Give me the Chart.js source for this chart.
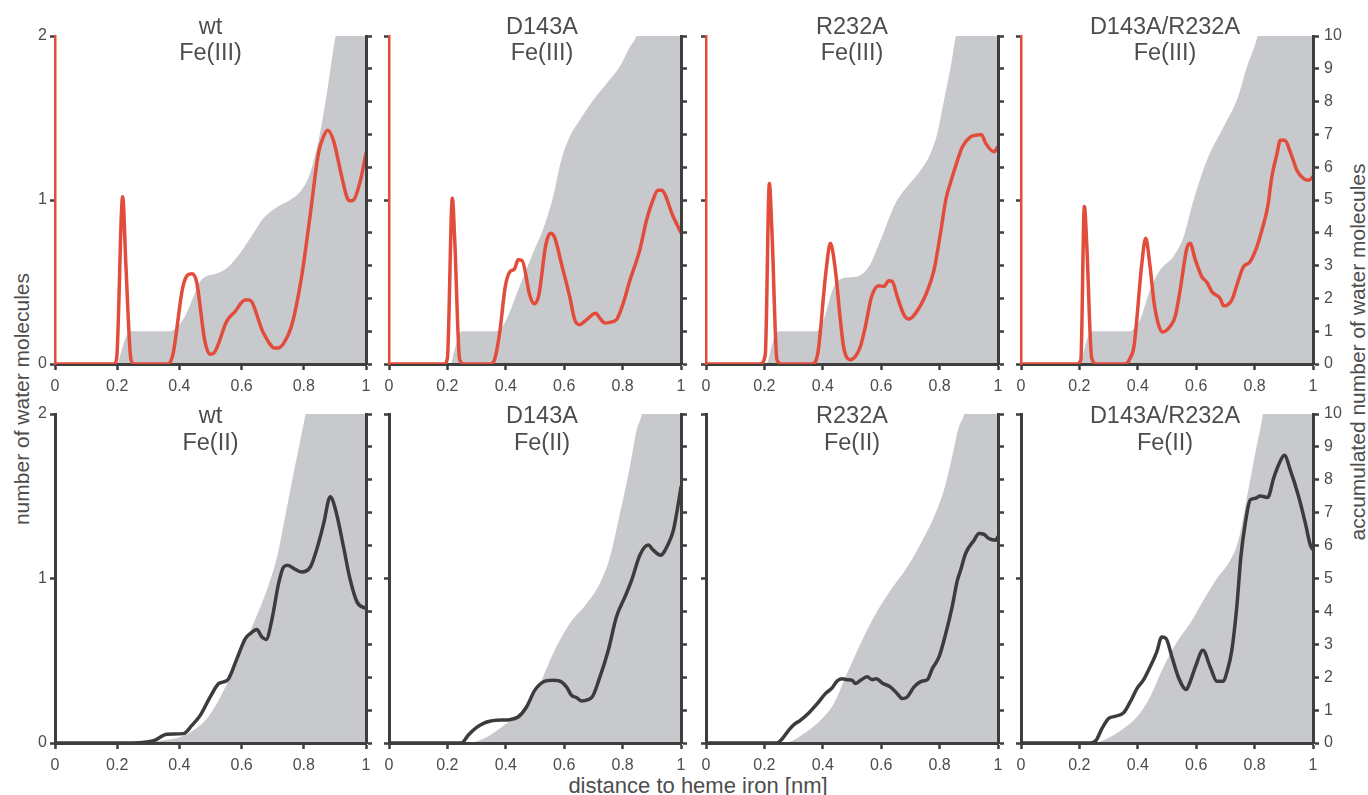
<!DOCTYPE html>
<html>
<head>
<meta charset="utf-8">
<script src="https://cdn.jsdelivr.net/npm/chart.js@4.4.1/dist/chart.umd.min.js"></script>
<style>
html,body{margin:0;padding:0;background:#fff;}
#wrap{position:relative;width:1368px;height:795px;overflow:hidden;font-family:"Liberation Sans",Arial,sans-serif;color:#4d4d4d;}
#wrap canvas{position:absolute;}
.ttl{position:absolute;white-space:nowrap;line-height:24px;transform-origin:50% 50%;}
</style>
</head>
<body>
<div id="wrap">
  <div class="ttl" id="ytl" style="font-size:21px;left:22px;top:399px;transform:translate(-50%,-50%) rotate(-90deg);">number of water molecules</div>
  <div class="ttl" id="y2tl" style="font-size:21px;left:1358px;top:352px;transform:translate(-50%,-50%) rotate(-90deg);">accumulated number of water molecules</div>
  <div class="ttl" id="xtl" style="font-size:22px;left:698px;top:786px;transform:translate(-50%,-50%);">distance to heme iron [nm]</div>
</div>
<script>
// ---------------- DATA ----------------
const xTickLabels = ['0', '0.2', '0.4', '0.6', '0.8', '1'];
const panelNames = ['wt', 'D143A', 'R232A', 'D143A/R232A'];
const stateNames = ['Fe(III)', 'Fe(II)'];

// [distance nm, number of water molecules]
const wtFe3Line = [[0,0],[0.19,0],[0.198,0.03],[0.2176,1.02],[0.228,0.6],[0.244,0.03],[0.255,0],[0.364,0],[0.38,0.067],[0.41,0.46],[0.427,0.543],[0.44,0.55],[0.455,0.503],[0.482,0.138],[0.498,0.06],[0.51,0.065],[0.552,0.26],[0.579,0.32],[0.611,0.39],[0.625,0.39],[0.67,0.19],[0.707,0.097],[0.718,0.097],[0.75,0.178],[0.766,0.27],[0.793,0.533],[0.82,0.90],[0.847,1.284],[0.863,1.385],[0.877,1.426],[0.895,1.365],[0.922,1.142],[0.938,1.02],[0.948,0.995],[0.96,1.0],[0.981,1.111],[1.0,1.284]];
const d143aFe3Line = [[0,0],[0.19,0],[0.2,0.037],[0.217,1.01],[0.225,0.76],[0.242,0.026],[0.259,0],[0.345,0],[0.362,0.03],[0.379,0.19],[0.398,0.47],[0.413,0.56],[0.43,0.58],[0.442,0.635],[0.456,0.63],[0.482,0.42],[0.497,0.367],[0.513,0.42],[0.537,0.726],[0.553,0.797],[0.567,0.773],[0.59,0.615],[0.619,0.41],[0.636,0.27],[0.653,0.24],[0.67,0.26],[0.708,0.31],[0.722,0.28],[0.739,0.25],[0.756,0.254],[0.779,0.27],[0.802,0.37],[0.825,0.51],[0.859,0.696],[0.882,0.878],[0.904,1.0],[0.921,1.06],[0.933,1.06],[0.973,0.9],[1.0,0.8]];
const r232aFe3Line = [[0,0],[0.186,0],[0.203,0.057],[0.217,1.10],[0.226,0.8],[0.243,0.026],[0.26,0],[0.363,0],[0.383,0.067],[0.41,0.55],[0.426,0.736],[0.443,0.574],[0.46,0.27],[0.472,0.097],[0.495,0.026],[0.512,0.047],[0.529,0.108],[0.546,0.23],[0.567,0.41],[0.592,0.477],[0.609,0.473],[0.626,0.507],[0.638,0.503],[0.655,0.41],[0.678,0.3],[0.695,0.274],[0.718,0.31],[0.752,0.42],[0.781,0.574],[0.803,0.797],[0.821,1.0],[0.838,1.11],[0.861,1.24],[0.878,1.325],[0.906,1.385],[0.929,1.396],[0.943,1.40],[0.958,1.345],[0.986,1.294],[1.0,1.325]];
const drFe3Line = [[0,0],[0.19,0],[0.205,0.026],[0.217,0.96],[0.225,0.736],[0.242,0.037],[0.259,0],[0.357,0],[0.374,0.037],[0.387,0.108],[0.414,0.615],[0.427,0.767],[0.442,0.594],[0.456,0.37],[0.471,0.24],[0.485,0.195],[0.511,0.23],[0.528,0.29],[0.545,0.45],[0.568,0.706],[0.579,0.736],[0.597,0.635],[0.619,0.533],[0.637,0.497],[0.654,0.44],[0.682,0.40],[0.694,0.355],[0.707,0.36],[0.722,0.39],[0.745,0.513],[0.762,0.594],[0.783,0.62],[0.808,0.716],[0.825,0.817],[0.845,0.96],[0.859,1.142],[0.877,1.284],[0.888,1.365],[0.902,1.365],[0.928,1.264],[0.945,1.18],[0.968,1.13],[0.985,1.12],[1.0,1.142]];

const wtFe2Line = [[0,0],[0.25,0],[0.295,0.006],[0.32,0.016],[0.36,0.053],[0.413,0.057],[0.44,0.107],[0.467,0.168],[0.499,0.28],[0.526,0.361],[0.542,0.371],[0.558,0.39],[0.585,0.513],[0.612,0.635],[0.628,0.665],[0.649,0.69],[0.665,0.645],[0.679,0.629],[0.697,0.746],[0.719,0.97],[0.735,1.07],[0.748,1.081],[0.773,1.055],[0.794,1.04],[0.821,1.07],[0.842,1.18],[0.864,1.335],[0.885,1.497],[0.901,1.426],[0.928,1.19],[0.947,1.01],[0.971,0.858],[1.0,0.817]];
const d143aFe2Line = [[0,0],[0.248,0],[0.271,0.047],[0.299,0.093],[0.322,0.118],[0.345,0.132],[0.368,0.138],[0.414,0.142],[0.442,0.158],[0.471,0.219],[0.499,0.32],[0.528,0.371],[0.562,0.381],[0.591,0.371],[0.608,0.34],[0.625,0.29],[0.642,0.276],[0.659,0.256],[0.694,0.276],[0.722,0.40],[0.751,0.564],[0.779,0.767],[0.808,0.888],[0.831,0.99],[0.859,1.142],[0.888,1.203],[0.905,1.172],[0.93,1.142],[0.957,1.213],[0.974,1.294],[0.991,1.457],[1.0,1.556]];
const r232aFe2Line = [[0,0],[0.243,0],[0.261,0.026],[0.283,0.077],[0.301,0.112],[0.323,0.138],[0.352,0.183],[0.381,0.239],[0.409,0.30],[0.432,0.335],[0.449,0.377],[0.466,0.391],[0.483,0.385],[0.501,0.381],[0.512,0.361],[0.529,0.381],[0.552,0.402],[0.569,0.385],[0.584,0.391],[0.603,0.365],[0.632,0.34],[0.655,0.30],[0.672,0.27],[0.689,0.28],[0.712,0.34],[0.741,0.377],[0.758,0.385],[0.775,0.452],[0.798,0.523],[0.821,0.665],[0.843,0.828],[0.861,0.99],[0.872,1.05],[0.889,1.152],[0.918,1.233],[0.935,1.274],[0.952,1.268],[0.969,1.243],[0.992,1.233],[1.0,1.254]];
const drFe2Line = [[0,0],[0.237,0],[0.257,0.016],[0.277,0.087],[0.299,0.148],[0.322,0.162],[0.351,0.183],[0.374,0.25],[0.397,0.33],[0.42,0.385],[0.442,0.462],[0.465,0.554],[0.482,0.645],[0.497,0.635],[0.517,0.523],[0.539,0.40],[0.566,0.325],[0.579,0.371],[0.597,0.462],[0.623,0.564],[0.648,0.462],[0.671,0.375],[0.691,0.375],[0.707,0.442],[0.722,0.564],[0.739,0.828],[0.753,1.132],[0.768,1.335],[0.785,1.477],[0.802,1.487],[0.819,1.501],[0.845,1.493],[0.865,1.609],[0.882,1.69],[0.902,1.75],[0.922,1.66],[0.951,1.497],[0.974,1.335],[0.991,1.203],[1.0,1.176]];

// [distance nm, accumulated number of water molecules]
const wtFe3Acc = [[0,0],[0.2,0],[0.215,0.45],[0.232,0.9],[0.245,1.0],[0.37,1.0],[0.38,1.03],[0.4,1.2],[0.423,1.55],[0.445,2.05],[0.466,2.51],[0.488,2.68],[0.52,2.76],[0.552,2.92],[0.595,3.38],[0.638,3.99],[0.67,4.44],[0.713,4.78],[0.756,5.0],[0.788,5.25],[0.82,5.81],[0.852,7.03],[0.879,8.55],[0.898,9.77],[0.91,10.3],[1.0,12]];
const d143aFe3Acc = [[0,0],[0.21,0],[0.225,0.45],[0.24,0.9],[0.255,1.0],[0.367,1.0],[0.38,1.05],[0.402,1.35],[0.447,2.36],[0.493,3.38],[0.527,4.09],[0.562,5.1],[0.59,6.22],[0.619,6.93],[0.653,7.43],[0.699,8.04],[0.745,8.55],[0.79,9.06],[0.825,9.67],[0.847,10.0],[0.86,10.5],[1.0,12]];
const r232aFe3Acc = [[0,0],[0.207,0],[0.222,0.45],[0.237,0.9],[0.25,1.0],[0.381,1.0],[0.39,1.1],[0.403,1.35],[0.438,2.36],[0.472,2.62],[0.518,2.67],[0.558,2.97],[0.598,3.78],[0.649,4.9],[0.689,5.41],[0.735,5.91],[0.769,6.42],[0.792,7.03],[0.815,8.04],[0.838,9.06],[0.855,9.97],[0.87,10.5],[1.0,12]];
const drFe3Acc = [[0,0],[0.202,0],[0.217,0.45],[0.232,0.9],[0.245,1.0],[0.374,1.0],[0.388,1.1],[0.408,1.35],[0.442,2.26],[0.477,2.87],[0.522,3.28],[0.557,3.88],[0.591,5.0],[0.637,6.22],[0.694,7.23],[0.739,8.04],[0.774,9.06],[0.808,9.92],[0.82,10.4],[1.0,12]];

const wtFe2Acc = [[0,0],[0.25,0],[0.3,0.03],[0.35,0.08],[0.402,0.18],[0.445,0.385],[0.488,0.74],[0.52,1.2],[0.553,1.8],[0.595,2.72],[0.638,3.63],[0.681,4.64],[0.714,5.66],[0.74,6.88],[0.767,8.19],[0.789,9.21],[0.805,9.97],[0.815,10.5],[1.0,12]];
const d143aFe2Acc = [[0,0],[0.27,0],[0.288,0.02],[0.345,0.23],[0.402,0.59],[0.459,0.99],[0.517,1.8],[0.562,2.72],[0.619,3.63],[0.677,4.24],[0.722,4.85],[0.757,5.66],[0.791,6.98],[0.825,8.4],[0.848,9.51],[0.865,9.97],[0.875,10.5],[1.0,12]];
const r232aFe2Acc = [[0,0],[0.27,0],[0.283,0.02],[0.335,0.28],[0.392,0.69],[0.438,1.2],[0.483,2.11],[0.529,3.02],[0.575,3.83],[0.632,4.64],[0.689,5.35],[0.735,6.06],[0.781,6.88],[0.815,7.69],[0.843,8.7],[0.866,9.61],[0.883,9.97],[0.893,10.5],[1.0,12]];
const drFe2Acc = [[0,0],[0.248,0],[0.294,0.13],[0.351,0.44],[0.397,0.79],[0.442,1.4],[0.488,2.31],[0.534,3.07],[0.579,3.63],[0.625,4.34],[0.671,5.0],[0.717,5.56],[0.745,6.17],[0.774,7.48],[0.802,8.8],[0.825,9.82],[0.835,10.4],[1.0,12]];

const lineSeries = [[wtFe3Line, d143aFe3Line, r232aFe3Line, drFe3Line],[wtFe2Line, d143aFe2Line, r232aFe2Line, drFe2Line]];
const accSeries  = [[wtFe3Acc, d143aFe3Acc, r232aFe3Acc, drFe3Acc],[wtFe2Acc, d143aFe2Acc, r232aFe2Acc, drFe2Acc]];

// ---------------- LAYOUT / STYLE ----------------
const FF = '"Liberation Sans", Arial, Helvetica, sans-serif';
const TXT = '#4d4d4d';
const AX = '#3e3e3e';
const RED = '#e24c3b';
const DARK = '#3c3c3c';
const FILL = '#c8c9cd';
const ROWS = [{top:36, h:328, titleBase:[-2.5, 23.5], lineColor:RED, leftAxisColor:RED, leftAxisWidth:2.5},
              {top:414, h:329, titleBase:[9.3, 36], lineColor:DARK, leftAxisColor:AX, leftAxisWidth:3}];
const COLS = [{left:55, w:311, dx:0}, {left:389, w:292, dx:7}, {left:706, w:292, dx:0}, {left:1021, w:292, dx:-2}];
const PADL = 50, PADR = 50, PADT = 40, PADB = 40;

Chart.defaults.font.family = FF;
Chart.defaults.color = TXT;

const panelTitle = {
  id: 'panelTitle',
  afterDraw(chart, args, opts) {
    const {ctx, chartArea} = chart;
    ctx.save();
    ctx.font = '23.5px ' + FF;
    ctx.fillStyle = TXT;
    ctx.textAlign = 'center';
    ctx.textBaseline = 'alphabetic';
    const cx = (chartArea.left + chartArea.right) / 2 + (opts.dx || 0);
    opts.lines.forEach((t, i) => ctx.fillText(t, cx, chartArea.top + opts.base[i]));
    ctx.restore();
  }
};

const wrap = document.getElementById('wrap');
const toPts = arr => arr.map(([x, y]) => ({x, y}));

ROWS.forEach((row, r) => {
  COLS.forEach((col, c) => {
    const cv = document.createElement('canvas');
    const W = col.w + PADL + PADR, H = row.h + PADT + PADB;
    cv.width = W; cv.height = H;
    cv.style.width = W + 'px'; cv.style.height = H + 'px';
    cv.style.left = (col.left - PADL) + 'px';
    cv.style.top = (row.top - PADT) + 'px';
    wrap.appendChild(cv);

    new Chart(cv, {
      type: 'line',
      data: {
        datasets: [
          {
            data: toPts(lineSeries[r][c]), yAxisID: 'y', order: 0,
            borderColor: row.lineColor, borderWidth: 3.5, pointRadius: 0, fill: false,
            cubicInterpolationMode: 'monotone', borderJoinStyle: 'round', borderCapStyle: 'round'
          },
          {
            data: toPts(accSeries[r][c]), yAxisID: 'y2', order: 1,
            borderColor: 'rgba(0,0,0,0)', borderWidth: 1, backgroundColor: FILL,
            pointRadius: 0, fill: 'origin', cubicInterpolationMode: 'monotone'
          }
        ]
      },
      options: {
        responsive: false, animation: false, events: [],
        layout: {padding: {top: PADT, left: 0, right: 0, bottom: 0}},
        plugins: {
          legend: {display: false}, tooltip: {enabled: false},
          filler: {drawTime: 'beforeDraw'},
          panelTitle: {lines: [panelNames[c], stateNames[r]], dx: col.dx, base: row.titleBase}
        },
        scales: {
          x: {
            type: 'linear', position: 'bottom', min: 0, max: 1,
            afterFit(s) { s.height = PADB; },
            afterBuildTicks(s) { s.ticks = xTickLabels.map(v => ({value: parseFloat(v)})); },
            ticks: {color: TXT, font: {size: 16}, padding: 7, maxRotation: 0, autoSkip: false,
                    callback: (v, i) => xTickLabels[i]},
            grid: {drawOnChartArea: false, drawTicks: true, tickLength: 6, tickWidth: 2.5, tickColor: AX, z: -1},
            border: {display: true, color: AX, width: 3, z: 0}
          },
          y: {
            type: 'linear', position: 'left', min: 0, max: 2,
            afterFit(s) { s.width = PADL; },
            ticks: {stepSize: 1, display: c === 0, color: TXT, font: {size: 16}, padding: 3},
            grid: {drawOnChartArea: false, drawTicks: true, tickLength: 5, tickWidth: 2.5, tickColor: AX, z: 1},
            border: {display: true, color: row.leftAxisColor, width: row.leftAxisWidth, z: 1}
          },
          y2: {
            type: 'linear', position: 'right', min: 0, max: 10,
            afterFit(s) { s.width = PADR; },
            ticks: {stepSize: 1, display: c === 3, color: TXT, font: {size: 16}, padding: 5},
            grid: {drawOnChartArea: false, drawTicks: true, tickLength: 6, tickWidth: 2.5, tickColor: AX, z: 1},
            border: {display: true, color: AX, width: 3, z: 1}
          }
        }
      },
      plugins: [panelTitle]
    });
  });
});
</script>
</body>
</html>
